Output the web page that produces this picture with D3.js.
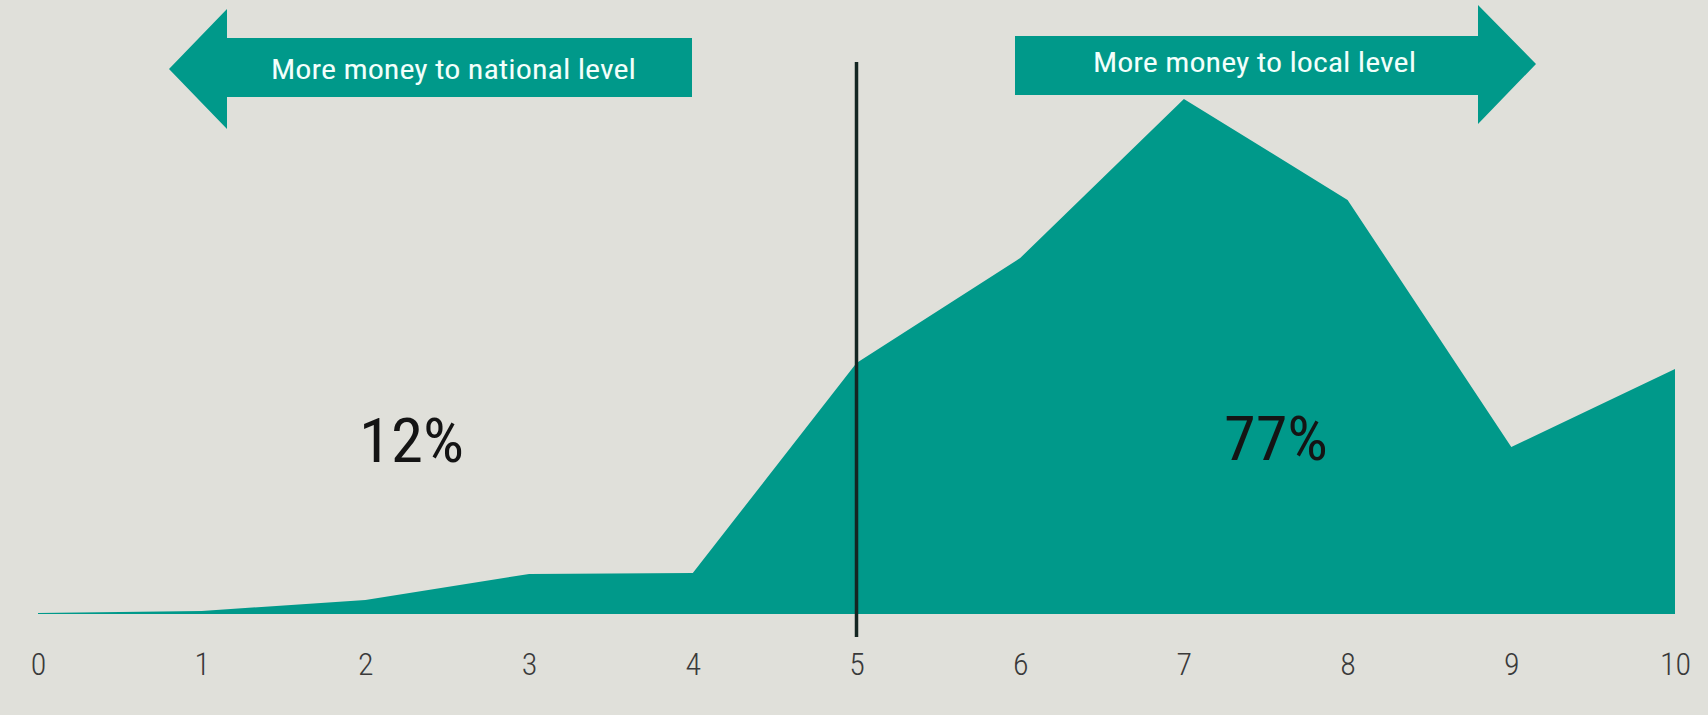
<!DOCTYPE html>
<html>
<head>
<meta charset="utf-8">
<script src="https://cdn.jsdelivr.net/npm/d3@7"></script>
<style>
  html, body { margin: 0; padding: 0; background: #e0e0da; }
  svg { display: block; }
  .lbl { font-family: "Liberation Sans Narrow", "Roboto Condensed", "DejaVu Sans Condensed", "Liberation Sans", sans-serif; }
</style>
</head>
<body>
<script>
// ---- data ----
const scores = [0, 1, 2, 3, 4, 5, 6, 7, 8, 9, 10];
const shares = [0.1, 0.3, 1.4, 4.0, 4.1, 25.1, 35.6, 51.5, 41.4, 16.7, 24.5];
const tickLabels = ["0", "1", "2", "3", "4", "5", "6", "7", "8", "9", "10"];
const arrowLabels = ["More money to national level", "More money to local level"];
const sideShares = ["12%", "77%"];
const midpoint = 5;

// ---- layout ----
const W = 1708, H = 715;
const teal = "#00998a";
const bg = "#e0e0da";

const svg = d3.select("body").append("svg")
  .attr("width", W).attr("height", H)
  .style("background", bg);

const x = d3.scaleLinear().domain([0, 10]).range([38, 1675]);
const y = d3.scaleLinear().domain([0, 51.5]).range([614, 99]);

// area
const area = d3.area()
  .x((d, i) => x(scores[i]))
  .y0(y(0))
  .y1(d => y(d))
  .curve(d3.curveLinear);

svg.append("path")
  .datum(shares)
  .attr("d", area)
  .attr("fill", teal);

// axis
const axis = d3.axisBottom(x)
  .tickValues(scores)
  .tickFormat((d, i) => tickLabels[i])
  .tickSize(0)
  .tickPadding(0);

const gAxis = svg.append("g")
  .attr("transform", `translate(0, ${y(0) + 38})`)
  .call(axis);
gAxis.select(".domain").remove();
gAxis.selectAll("text")
  .attr("class", "lbl")
  .attr("dy", "0.71em")
  .attr("y", 0)
  .attr("font-size", 32)
  .attr("font-weight", 300)
  .attr("fill", "#3a3a3a")
  .style("font-family", "'Liberation Sans Narrow','Roboto Condensed','DejaVu Sans Condensed',sans-serif");

// midpoint line
svg.append("line")
  .attr("x1", x(midpoint)).attr("x2", x(midpoint))
  .attr("y1", 62).attr("y2", 637)
  .attr("stroke", "#142622")
  .attr("stroke-width", 3.5);

// arrows
function arrow(tipX, tipY, backX, bodyEnd, bodyTop, bodyBot, headTop, headBot) {
  return `M${tipX},${tipY} L${backX},${headTop} L${backX},${bodyTop} L${bodyEnd},${bodyTop} L${bodyEnd},${bodyBot} L${backX},${bodyBot} L${backX},${headBot} Z`;
}
svg.append("path")
  .attr("d", arrow(169, 69, 227, 692, 38, 97, 9, 129))
  .attr("fill", teal);
svg.append("path")
  .attr("d", arrow(1536, 64, 1478, 1015, 36, 95, 5, 124))
  .attr("fill", teal);

svg.append("text")
  .attr("class", "lbl")
  .attr("x", 271).attr("y", 79)
  .attr("font-size", 28)
  .attr("fill", "#f2fffb")
  .attr("textLength", 365)
  .attr("lengthAdjust", "spacingAndGlyphs")
  .text(arrowLabels[0]);

svg.append("text")
  .attr("class", "lbl")
  .attr("x", 1093).attr("y", 72)
  .attr("font-size", 28)
  .attr("fill", "#f2fffb")
  .attr("textLength", 323)
  .attr("lengthAdjust", "spacingAndGlyphs")
  .text(arrowLabels[1]);

// share labels
svg.append("text")
  .attr("class", "lbl")
  .attr("x", 359).attr("y", 462)
  .attr("font-size", 62)
  .attr("fill", "#141414")
  .attr("textLength", 105)
  .attr("lengthAdjust", "spacingAndGlyphs")
  .text(sideShares[0]);

svg.append("text")
  .attr("class", "lbl")
  .attr("x", 1224).attr("y", 460)
  .attr("font-size", 62)
  .attr("fill", "#141414")
  .attr("textLength", 104)
  .attr("lengthAdjust", "spacingAndGlyphs")
  .text(sideShares[1]);
</script>
</body>
</html>
